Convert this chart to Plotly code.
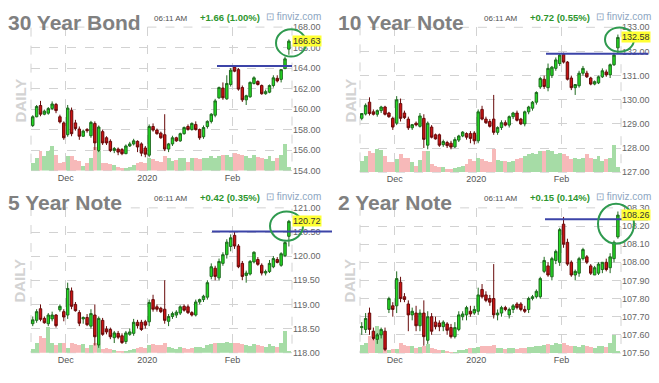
import pandas as pd
import plotly.graph_objects as go

# ---------------- data ----------------
holidays = ["2019-11-28", "2019-12-25", "2020-01-01"]
dates = [d for d in pd.bdate_range("2019-11-18", "2020-02-21") if d.strftime("%Y-%m-%d") not in holidays]
idx = list(range(len(dates)))

# 30 Year Bond
t30_open = [158.40,159.25,160.35,159.50,159.60,160.05,160.45,159.25,158.65,157.50,159.85,158.65,158.05,157.35,158.00,157.40,158.60,155.95,157.80,157.20,156.85,155.95,156.10,156.05,155.65,156.40,156.60,156.85,156.60,156.20,155.50,158.30,157.95,157.65,157.50,156.10,156.60,157.20,156.90,157.60,158.30,158.00,158.50,158.00,157.30,158.30,158.80,159.40,161.10,162.05,161.00,162.40,164.10,163.85,162.10,160.90,161.20,162.50,162.70,162.30,161.50,161.65,162.30,163.00,162.90,163.95,165.85]
t30_high = [159.40,160.40,160.80,159.95,160.20,160.75,160.60,159.45,158.80,160.40,160.15,158.95,158.30,158.00,158.15,158.85,158.80,158.40,158.00,157.35,157.05,156.30,156.25,156.20,156.55,156.80,157.10,156.95,156.75,156.40,158.50,158.60,158.10,157.80,159.50,156.70,157.40,157.30,157.70,158.30,158.50,158.70,158.80,158.10,158.40,158.90,159.60,161.00,162.20,162.60,163.30,164.00,164.25,164.00,162.30,161.40,162.70,163.20,162.80,162.40,161.90,162.40,163.30,163.30,163.90,165.10,166.80]
t30_low = [158.25,159.20,159.30,159.40,159.45,159.90,159.60,158.60,157.00,157.30,157.35,157.90,157.00,157.30,157.70,157.20,156.00,155.80,156.50,156.50,155.80,155.70,155.50,155.50,155.60,156.30,156.45,155.80,155.40,155.30,155.30,157.80,157.50,157.10,155.90,155.80,156.40,156.80,156.80,157.50,157.90,157.90,157.90,157.00,157.10,158.10,158.60,159.20,161.00,160.90,160.90,162.20,163.60,161.80,160.70,160.40,161.10,162.40,162.30,161.40,161.40,161.55,162.10,162.60,162.60,163.90,165.30]
t30_close = [159.25,160.25,159.50,159.80,160.05,160.50,159.85,158.75,157.20,160.10,157.60,158.10,157.35,157.85,157.90,158.70,156.70,158.25,156.70,156.70,155.95,156.15,155.80,155.65,156.40,156.60,156.90,156.30,155.70,155.60,158.30,157.95,157.60,157.20,156.10,156.60,157.20,156.90,157.60,158.20,158.00,158.60,158.00,157.20,158.20,158.80,159.50,160.80,162.10,161.10,162.50,163.80,163.70,161.95,160.90,161.30,162.60,163.05,162.40,161.50,161.70,162.30,163.05,162.75,163.85,164.90,166.63]
t30_vol = [25,40,62,45,60,75,50,22,28,
           45,45,32,30,15,25,40,72,62,22,22,20,18,10,8,8,12,18,22,28,25,
           40,35,30,28,45,38,30,32,40,38,28,40,38,35,38,40,45,38,45,50,48,42,
           55,52,48,45,40,48,42,40,35,45,30,40,50,82,10]

# 10 Year Note
t10_open = [129.23,129.41,129.90,129.50,129.40,129.55,129.70,129.45,129.23,129.03,129.84,129.45,129.20,128.84,129.03,128.90,129.23,128.12,128.87,128.55,128.55,128.14,128.23,128.20,128.05,128.33,128.50,128.60,128.60,128.62,128.30,129.60,129.20,129.10,129.20,128.65,128.85,129.05,128.95,129.30,129.45,129.20,129.00,129.50,129.65,129.90,130.53,130.85,130.50,131.00,131.30,131.50,131.88,131.56,130.90,130.50,130.58,131.10,131.10,130.90,130.65,130.70,130.95,131.15,131.03,131.45,132.15]
t10_high = [129.45,129.85,130.10,129.60,129.60,129.75,129.75,129.50,129.30,130.15,130.05,129.55,129.30,129.00,129.10,129.45,129.40,129.10,128.95,128.60,128.60,128.35,128.30,128.30,128.45,128.55,128.70,128.65,128.70,128.70,129.60,129.75,129.30,129.20,130.20,128.90,129.15,129.15,129.35,129.50,129.55,129.25,129.55,129.75,129.95,130.35,130.95,131.00,131.50,131.40,131.75,131.90,131.95,131.60,131.00,130.65,131.20,131.40,131.20,130.95,130.80,131.00,131.30,131.25,131.50,131.95,132.70]
t10_low = [129.15,129.35,129.35,129.35,129.30,129.45,129.35,129.25,128.75,128.95,129.10,129.20,128.75,128.75,128.90,128.85,128.00,127.95,128.40,128.35,128.05,128.05,128.00,127.95,128.00,128.25,128.45,128.35,128.20,128.15,128.20,129.15,129.00,128.85,128.55,128.55,128.75,128.90,128.85,129.20,129.10,128.95,128.90,129.40,129.55,129.80,130.45,130.45,130.35,130.90,131.20,131.40,131.50,130.80,130.40,130.20,130.50,131.00,130.90,130.60,130.60,130.65,130.90,130.95,130.90,131.40,131.90]
t10_close = [129.43,129.77,129.43,129.40,129.55,129.70,129.40,129.30,128.87,130.00,129.23,129.26,128.84,128.97,128.96,129.33,128.36,129.03,128.45,128.38,128.12,128.27,128.10,128.04,128.35,128.50,128.66,128.45,128.40,128.30,129.50,129.20,129.05,128.90,128.65,128.85,129.05,128.95,129.30,129.45,129.15,129.00,129.50,129.70,129.90,130.30,130.88,130.55,131.30,131.35,131.65,131.85,131.56,130.85,130.50,130.63,131.10,131.30,130.95,130.65,130.75,130.95,131.20,131.03,131.45,131.85,132.58]
t10_vol = [35,50,65,60,70,67,50,30,30,
           40,57,45,45,30,20,37,65,65,25,20,17,15,10,10,13,17,20,25,40,35,
           45,40,35,30,70,37,35,35,30,35,40,45,50,57,60,55,65,65,67,65,55,60,
           55,50,40,45,40,45,55,45,40,50,35,40,45,85,17]

# 5 Year Note
t5_open = [118.60,118.67,118.91,118.71,118.60,118.70,118.78,118.89,118.85,118.78,119.28,119.00,118.83,118.70,118.73,118.55,118.78,118.16,118.67,118.49,118.48,118.31,118.40,118.35,118.23,118.38,118.40,118.63,118.63,118.64,118.64,119.10,118.95,118.92,118.90,118.65,118.75,118.78,118.82,118.96,118.95,118.83,118.78,119.05,119.10,119.15,119.58,119.75,119.55,119.85,120.03,120.20,120.43,120.21,119.85,119.60,119.63,119.88,119.93,119.81,119.65,119.68,119.78,119.93,119.81,120.01,120.41]
t5_high = [118.75,118.90,119.00,118.75,118.82,118.85,118.80,119.00,118.90,119.45,119.35,119.05,118.88,118.75,118.80,118.90,119.00,118.75,118.72,118.55,118.52,118.45,118.45,118.40,118.45,118.50,118.70,118.68,118.68,118.68,119.10,119.20,119.00,118.95,119.50,118.80,118.85,118.88,118.98,119.00,119.00,118.86,119.10,119.12,119.20,119.50,119.85,119.80,119.95,120.08,120.35,120.45,120.50,120.25,119.90,119.70,119.92,120.10,119.98,119.85,119.72,119.92,120.00,119.98,120.08,120.32,120.75]
t5_low = [118.55,118.62,118.65,118.60,118.55,118.65,118.52,118.85,118.65,118.70,118.90,118.85,118.55,118.60,118.55,118.50,118.15,118.10,118.35,118.38,118.28,118.20,118.28,118.18,118.18,118.35,118.35,118.50,118.45,118.50,118.55,118.85,118.85,118.82,118.60,118.55,118.70,118.72,118.78,118.85,118.80,118.75,118.75,119.00,119.05,119.10,119.52,119.50,119.50,119.80,119.95,120.10,120.15,119.75,119.50,119.45,119.60,119.85,119.80,119.60,119.60,119.65,119.75,119.85,119.78,119.98,120.20]
t5_close = [118.68,118.85,118.69,118.62,118.78,118.78,118.56,118.96,118.74,119.33,118.96,118.87,118.61,118.73,118.58,118.81,118.33,118.71,118.38,118.43,118.33,118.41,118.32,118.21,118.41,118.43,118.63,118.56,118.48,118.57,119.04,118.90,118.90,118.85,118.67,118.75,118.81,118.84,118.95,118.88,118.83,118.78,119.05,119.10,119.17,119.45,119.78,119.58,119.89,120.03,120.29,120.38,120.21,119.78,119.58,119.65,119.89,120.08,119.83,119.65,119.68,119.85,119.95,119.87,120.05,120.28,120.72]
t5_vol = [10,28,50,45,78,30,22,30,28,
          15,30,25,22,25,15,22,30,22,12,15,10,8,5,4,6,8,10,14,16,14,
          22,25,24,22,30,18,15,12,18,15,12,15,18,18,15,22,25,28,30,28,32,28,
          30,28,25,22,20,25,22,20,18,25,20,18,30,65,5]

# 2 Year Note
t2_open = [107.640,107.630,107.720,107.620,107.575,107.600,107.620,107.740,107.760,107.760,107.890,107.810,107.770,107.710,107.720,107.650,107.720,107.570,107.700,107.670,107.665,107.645,107.660,107.640,107.590,107.630,107.700,107.710,107.730,107.720,107.730,107.850,107.820,107.800,107.800,107.710,107.720,107.750,107.710,107.740,107.770,107.770,107.740,107.740,107.800,107.810,107.810,107.950,107.980,107.920,108.010,108.000,108.210,108.110,108.000,107.930,107.940,108.020,108.030,107.980,107.930,107.940,107.960,108.000,107.970,108.020,108.140]
t2_high = [107.670,107.720,107.750,107.640,107.610,107.640,107.640,107.810,107.780,107.950,107.920,107.830,107.790,107.750,107.760,107.740,107.790,107.730,107.720,107.700,107.680,107.680,107.670,107.660,107.670,107.730,107.730,107.760,107.760,107.760,107.860,107.880,107.840,107.820,107.990,107.740,107.760,107.760,107.750,107.770,107.780,107.780,107.760,107.810,107.820,107.850,107.920,108.030,108.000,108.030,108.070,108.190,108.250,108.130,108.010,107.960,108.030,108.080,108.040,107.990,107.980,108.000,108.000,108.020,108.050,108.120,108.280]
t2_low = [107.600,107.610,107.600,107.570,107.550,107.580,107.510,107.720,107.700,107.720,107.780,107.780,107.620,107.680,107.620,107.620,107.540,107.550,107.600,107.630,107.620,107.620,107.600,107.580,107.580,107.620,107.680,107.680,107.700,107.710,107.710,107.800,107.780,107.760,107.690,107.680,107.700,107.730,107.690,107.720,107.740,107.730,107.720,107.720,107.790,107.800,107.800,107.940,107.920,107.900,107.990,107.980,108.080,107.980,107.920,107.900,107.920,108.010,107.990,107.930,107.930,107.930,107.940,107.950,107.940,108.000,108.130]
t2_close = [107.645,107.690,107.630,107.580,107.600,107.630,107.520,107.800,107.740,107.910,107.800,107.795,107.710,107.730,107.650,107.720,107.590,107.700,107.620,107.645,107.645,107.670,107.625,107.590,107.640,107.710,107.715,107.750,107.715,107.740,107.820,107.810,107.790,107.780,107.710,107.720,107.750,107.740,107.740,107.760,107.750,107.740,107.730,107.800,107.810,107.840,107.910,108.010,107.930,108.020,108.060,108.180,108.100,107.990,107.930,107.950,108.020,108.070,108.000,107.940,107.970,107.990,108.000,107.960,108.030,108.110,108.260]
t2_vol = [25,32,52,42,84,62,12,10,12,
          12,30,25,20,22,15,18,22,28,15,12,10,8,5,4,4,8,10,12,14,15,
          18,20,22,20,25,15,14,12,15,14,12,14,16,18,18,20,22,25,28,25,30,28,
          32,26,22,20,18,24,20,18,16,22,20,18,30,54,6]

titles = ["30 Year Bond", "10 Year Note", "5 Year Note", "2 Year Note"]
changes = ["+1.66 (1.00%)", "+0.72 (0.55%)", "+0.42 (0.35%)", "+0.15 (0.14%)"]
last_labels = ["166.63", "132.58", "120.72", "108.26"]
time_label = "06:11 AM"

# ---------------- styling / layout ----------------
W, H = 659, 383
FONT = "Liberation Sans, Arial, sans-serif"
GRID = "#d2d2d2"
UP_FILL, UP_LINE = "#22dd22", "#1f6a1f"
DN_FILL, DN_LINE = "#cc1111", "#680a0a"
VOL_UP, VOL_DN = "#a6dca6", "#f7b9b9"

panels = [
    dict(o=t30_open, h=t30_high, l=t30_low, c=t30_close, v=t30_vol, yr=[154, 168], dt=2,
         xl=31, xr=292, yt=22.7, yb=170, volf=5.45, ox=0, oy=0,
         circ=(276, 25, 306, 53), line=(217, 292, 62.7)),
    dict(o=t10_open, h=t10_high, l=t10_low, c=t10_close, v=t10_vol, yr=[127, 133], dt=1,
         xl=360, xr=621, yt=22.9, yb=171.7, volf=5.25, ox=330, oy=0,
         circ=(605, 23, 634, 48), line=(546, 648, 50)),
    dict(o=t5_open, h=t5_high, l=t5_low, c=t5_close, v=t5_vol, yr=[118, 121], dt=0.5,
         xl=31, xr=292, yt=208.3, yb=357, volf=5.57, ox=0, oy=185,
         circ=(270, 212, 303, 242), line=(212, 332, 232.7)),
    dict(o=t2_open, h=t2_high, l=t2_low, c=t2_close, v=t2_vol, yr=[107.5, 108.3], dt=0.1,
         xl=360, xr=621, yt=208.3, yb=357.3, volf=5.3, ox=330, oy=185,
         circ=(598, 204, 634, 245), line=(545, 648, 220)),
]

month_starts = [i for i in range(1, len(dates)) if dates[i].month != dates[i - 1].month]
tickvals = [i - 0.5 for i in month_starts]
ticktext = [dates[i].strftime("%Y") if dates[i].month == 1 else dates[i].strftime("%b") for i in month_starts]


def px_x(x):
    return x / W


def px_y(y):
    return 1 - y / H


def nm(prefix, n):
    return prefix if n == 1 else f"{prefix}{n}"


fig = go.Figure()
layout = {}
shapes = []
annotations = []

for k, p in enumerate(panels):
    xn, vn, pn = k + 1, 2 * k + 1, 2 * k + 2
    xa, va, pa = nm("x", xn), nm("y", vn), nm("y", pn)
    dom_x = [px_x(p["xl"]), px_x(p["xr"])]
    dom_y = [px_y(p["yb"]), px_y(p["yt"])]
    vcols = [VOL_UP if c >= o else VOL_DN for o, c in zip(p["o"], p["c"])]
    fig.add_trace(go.Bar(x=idx, y=p["v"], marker_color=vcols, marker_line_width=0,
                         xaxis=xa, yaxis=va, showlegend=False, hoverinfo="skip"))
    fig.add_trace(go.Candlestick(
        x=idx, open=p["o"], high=p["h"], low=p["l"], close=p["c"],
        xaxis=xa, yaxis=pa, showlegend=False, hoverinfo="skip", whiskerwidth=0,
        increasing=dict(fillcolor=UP_FILL, line=dict(color=UP_LINE, width=1)),
        decreasing=dict(fillcolor=DN_FILL, line=dict(color=DN_LINE, width=1)),
    ))
    layout[nm("xaxis", xn)] = dict(
        domain=dom_x, anchor=va, range=[-0.45, 66.8], tickmode="array",
        tickvals=tickvals, ticktext=ticktext, showgrid=True, gridcolor=GRID,
        griddash="dash", gridwidth=1, zeroline=False, ticks="", showline=False,
        tickfont=dict(family=FONT, size=9, color="#555555"),
        rangeslider=dict(visible=False), fixedrange=True)
    layout[nm("yaxis", vn)] = dict(
        domain=dom_y, anchor=xa, range=[0, max(p["v"]) * p["volf"]], visible=False,
        fixedrange=True)
    layout[nm("yaxis", pn)] = dict(
        overlaying=va, anchor=xa, side="right", range=p["yr"], tickmode="linear",
        tick0=p["yr"][0], dtick=p["dt"], tickformat=".2f", showgrid=True,
        gridcolor=GRID, griddash="dash", gridwidth=1, zeroline=False, ticks="",
        showline=False, tickfont=dict(family=FONT, size=9, color="#666666"),
        fixedrange=True)

    # dashed frame
    shapes.append(dict(type="rect", xref="paper", yref="paper",
                       x0=px_x(p["xl"]), x1=px_x(p["xr"]), y0=px_y(p["yb"]), y1=px_y(p["yt"]),
                       line=dict(color=GRID, width=1, dash="dash"), layer="below"))
    # resistance line
    lx0, lx1, ly = p["line"]
    shapes.append(dict(type="line", xref="paper", yref="paper",
                       x0=px_x(lx0), x1=px_x(lx1), y0=px_y(ly), y1=px_y(ly),
                       line=dict(color="#3c44a8", width=2)))
    # green circle
    cx0, cy0, cx1, cy1 = p["circ"]
    shapes.append(dict(type="circle", xref="paper", yref="paper",
                       x0=px_x(cx0), x1=px_x(cx1), y0=px_y(cy1), y1=px_y(cy0),
                       line=dict(color="#2f9a4f", width=2)))

    ox, oy = p["ox"], p["oy"]
    annotations += [
        dict(text=f"<b>{titles[k]}</b>", x=px_x(ox + 6), y=px_y(oy + 17.5), xref="paper", yref="paper",
             xanchor="left", yanchor="middle", showarrow=False,
             font=dict(family=FONT, size=21, color="#808080")),
        dict(text=time_label, x=px_x(ox + 152), y=px_y(oy + 13.5), xref="paper", yref="paper",
             xanchor="left", yanchor="middle", showarrow=False,
             font=dict(family=FONT, size=8, color="#505050")),
        dict(text=f"<b>{changes[k]}</b>", x=px_x(ox + 198), y=px_y(oy + 12.5), xref="paper", yref="paper",
             xanchor="left", yanchor="middle", showarrow=False,
             font=dict(family=FONT, size=9.5, color="#2e962e")),
        dict(text="⊡ finviz.com", x=px_x(ox + 264), y=px_y(oy + 12), xref="paper", yref="paper",
             xanchor="left", yanchor="middle", showarrow=False,
             font=dict(family=FONT, size=10, color="#8ea6c2")),
        dict(text="<b>DAILY</b>", x=px_x(ox + 20), y=px_y(oy + 98), xref="paper", yref="paper",
             xanchor="center", yanchor="middle", showarrow=False, textangle=-90,
             font=dict(family=FONT, size=15, color="#d3d3d3")),
        dict(text=last_labels[k], x=1, xref=f"{xa} domain", y=p["c"][-1], yref=pa,
             xanchor="left", yanchor="middle", showarrow=False, bgcolor="#ffff33",
             borderpad=0, font=dict(family=FONT, size=9, color="#333333")),
    ]

fig.update_layout(
    width=W, height=H, margin=dict(l=0, r=0, t=0, b=0),
    paper_bgcolor="white", plot_bgcolor="white", bargap=0, boxgap=0.1,
    showlegend=False, hovermode=False, shapes=shapes, annotations=annotations,
    **layout)

fig.write_html(
    "out.html",
    config={"displayModeBar": False, "staticPlot": True},
    post_script="document.body.style.margin='0';document.body.style.padding='0';"
                "document.body.style.overflow='hidden';",
)
